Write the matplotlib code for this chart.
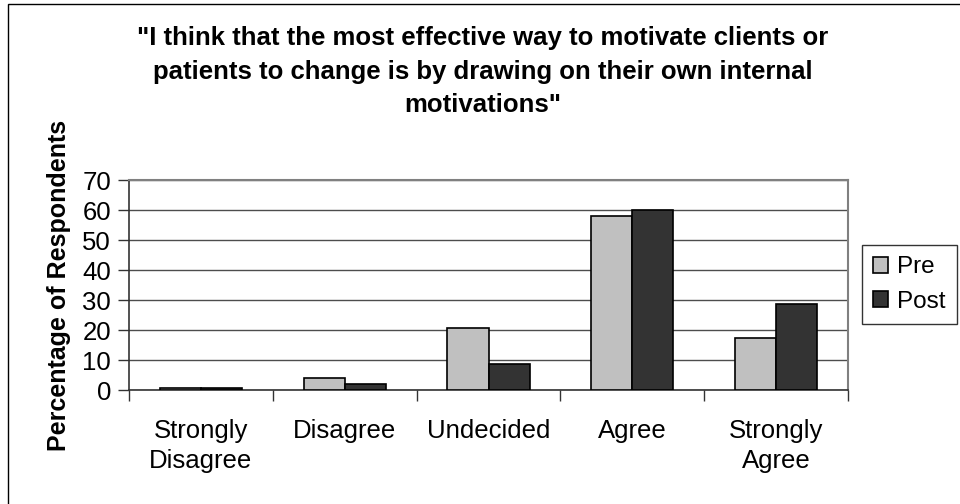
import matplotlib
matplotlib.use("Agg")
import matplotlib.pyplot as plt
import numpy as np
from matplotlib.patches import Rectangle

categories = ["Strongly\nDisagree", "Disagree", "Undecided", "Agree", "Strongly\nAgree"]
pre = [0.8, 4.0, 20.8, 58.0, 17.3]
post = [0.8, 2.1, 8.8, 60.0, 28.7]
series_names = ["Pre", "Post"]
yticks = [0, 10, 20, 30, 40, 50, 60, 70]
title = '"I think that the most effective way to motivate clients or\npatients to change is by drawing on their own internal\nmotivations"'

plt.rcParams['font.family'] = ['Liberation Sans', 'DejaVu Sans']

W, H = 960, 504
fig = plt.figure(figsize=(9.6, 5.04), dpi=100)
fig.patch.set_facecolor('white')

# outer chart border
fig.patches.append(Rectangle((8 / W, -0.05), 1.2, 1 - 4 / H + 0.05, transform=fig.transFigure,
                             fill=False, edgecolor='black', linewidth=1.0))

left, right, top, bottom = 129, 848, 180, 390
ax = fig.add_axes([left / W, 1 - bottom / H, (right - left) / W, (bottom - top) / H])

x = np.arange(len(categories))
bw = 0.286
ax.bar(x - bw / 2, pre, width=bw, color='#C0C0C0', edgecolor='black', linewidth=1.2,
       label=series_names[0], zorder=3)
ax.bar(x + bw / 2, post, width=bw, color='#333333', edgecolor='black', linewidth=1.2,
       label=series_names[1], zorder=3)

ax.set_xlim(-0.5, len(categories) - 0.5)
ax.set_ylim(0, 70)
ax.set_yticks(yticks)
ax.set_yticklabels([str(t) for t in yticks], fontsize=18.5)
ax.yaxis.grid(True, color='#4d4d4d', linewidth=1.0, zorder=0)
ax.set_axisbelow(True)

ax.set_xticks(np.arange(len(categories) + 1) - 0.5)
ax.set_xticklabels([])
ax.set_xticks(x, minor=True)
ax.set_xticklabels(categories, minor=True, fontsize=18.5, linespacing=1.3)
ax.tick_params(axis='x', which='minor', length=0, pad=21)
ax.tick_params(axis='x', which='major', direction='out', length=8, width=1, color='#333333')
ax.tick_params(axis='y', direction='out', length=8, width=1, color='#333333', pad=5)

for s in ['left', 'bottom']:
    ax.spines[s].set_color('#333333')
    ax.spines[s].set_linewidth(1.2)
for s in ['top', 'right']:
    ax.spines[s].set_color('#808080')
    ax.spines[s].set_linewidth(1.5)

ax.set_ylabel('Percentage of Respondents', fontsize=18, fontweight='bold', labelpad=8)

fig.text(483 / W, 1 - 26 / H, title, ha='center', va='top', fontsize=18.5, fontweight='bold',
         linespacing=1.5)

leg = fig.legend(loc='center', bbox_to_anchor=(909.5 / W, 1 - 284.5 / H), fontsize=17.5,
                 frameon=True, fancybox=False, edgecolor='black', handlelength=0.6,
                 handleheight=0.6, handletextpad=0.4, borderpad=0.45, labelspacing=0.5)
leg.get_frame().set_linewidth(1.0)

fig.savefig('out.png', dpi=100, facecolor='white')
